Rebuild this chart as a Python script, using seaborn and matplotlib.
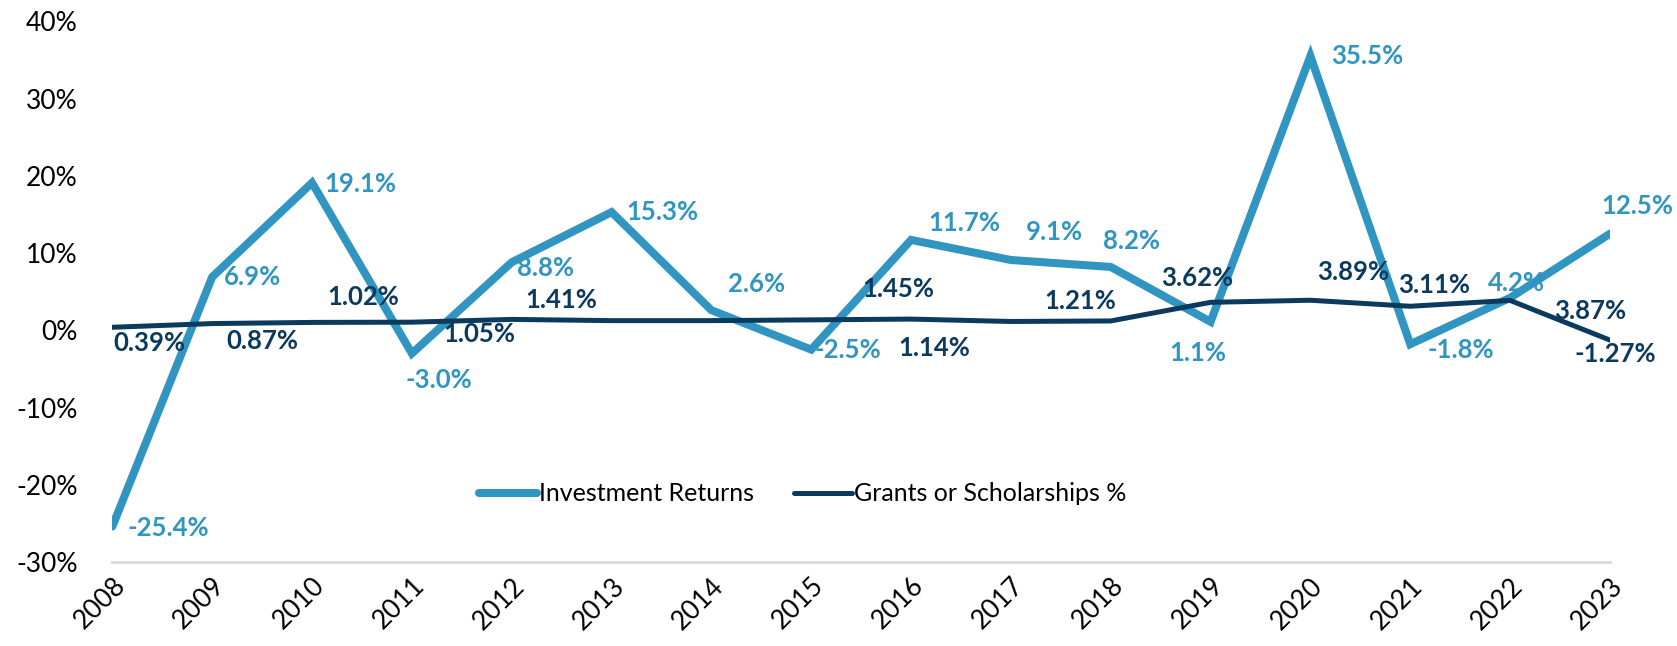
import matplotlib
matplotlib.use("Agg")
import matplotlib.pyplot as plt
import seaborn as sns
import pandas as pd
from matplotlib.ticker import FuncFormatter

# data
years = list(range(2008, 2024))
investment_returns = [-25.4, 6.9, 19.1, -3.0, 8.8, 15.3, 2.6, -2.5,
                      11.7, 9.1, 8.2, 1.1, 35.5, -1.8, 4.2, 12.5]
grants_pct = [0.39, 0.87, 1.02, 1.05, 1.41, 1.25, 1.25, 1.35,
              1.45, 1.14, 1.21, 3.62, 3.89, 3.11, 3.87, -1.27]
# which grants points carry a label in the original
grants_labelled = [True, True, True, True, True, False, False, False,
                   True, True, True, True, True, True, True, True]

series_names = ["Investment Returns", "Grants or Scholarships %"]
colors = ["#3195C1", "#0C3A5E"]
widths = [5.8, 3.6]

# label offsets (pixels, dx right / dy down)
inv_offsets = [(56, 2), (40, 0), (48, 1), (27, 27), (34, 6), (51, 0),
               (45, -26), (37, 0), (53, -17), (44, -28), (21, -26),
               (-13, 31), (57, 0), (51, 6), (6, -15), (27, -28)]
grant_offsets = [(37, 16), (50, 17), (51, -25), (67, 12), (50, -19),
                 (0, 0), (0, 0), (0, 0), (-13, -30), (-77, 27), (-30, -20),
                 (-13, -24), (43, -28), (24, -21), (80, 11), (5, 14)]

df = pd.DataFrame({
    "year": years * 2,
    "value": investment_returns + grants_pct,
    "series": [series_names[0]] * len(years) + [series_names[1]] * len(years),
})

sns.set_style("white")
plt.rcParams["font.family"] = ["Lato", "DejaVu Sans"]
plt.rcParams["text.color"] = "black"
plt.rcParams["xtick.color"] = "black"
plt.rcParams["ytick.color"] = "black"

fig = plt.figure(figsize=(16.77, 6.46), dpi=100)
ax = fig.add_axes([0.067, 0.13, 0.893, 0.837])

sns.lineplot(data=df, x="year", y="value", hue="series",
             palette=dict(zip(series_names, colors)), ax=ax)
for line, lw in zip(ax.lines, widths):
    line.set_linewidth(lw)
    line.set_solid_joinstyle("miter")

# data labels
for x, v, (dx, dy) in zip(years, investment_returns, inv_offsets):
    ax.annotate(f"{v:.1f}%", (x, v), xytext=(dx, -dy), textcoords="offset pixels",
                ha="center", va="center", fontsize=18.5, fontweight="bold",
                color=colors[0])
for x, v, show, (dx, dy) in zip(years, grants_pct, grants_labelled, grant_offsets):
    if show:
        ax.annotate(f"{v:.2f}%", (x, v), xytext=(dx, -dy), textcoords="offset pixels",
                    ha="center", va="center", fontsize=18.5, fontweight="bold",
                    color=colors[1])

ax.set_xlim(2008, 2023)
ax.set_ylim(-30, 40)
ax.set_yticks(range(-30, 41, 10))
ax.yaxis.set_major_formatter(FuncFormatter(lambda v, p: f"{v:.0f}%"))
ax.set_xticks(years)
ax.set_xticklabels([str(y) for y in years], rotation=45, ha="right",
                   rotation_mode="anchor")
ax.tick_params(axis="x", labelsize=19, pad=8, length=0)
ax.tick_params(axis="y", labelsize=19, pad=25, length=0)
ax.set_xlabel("")
ax.set_ylabel("")

for side in ["top", "right", "left"]:
    ax.spines[side].set_visible(False)
ax.spines["bottom"].set_color("#D9D9D9")
ax.spines["bottom"].set_linewidth(2)

ax.legend(loc="center", bbox_to_anchor=(0.461, 0.126), ncol=2, frameon=False,
          fontsize=18, handlelength=2.3, handletextpad=0.1, columnspacing=1.6)
for h, lw in zip(ax.get_legend().get_lines(), widths):
    h.set_linewidth(lw)

fig.savefig("out.png", dpi=100)
